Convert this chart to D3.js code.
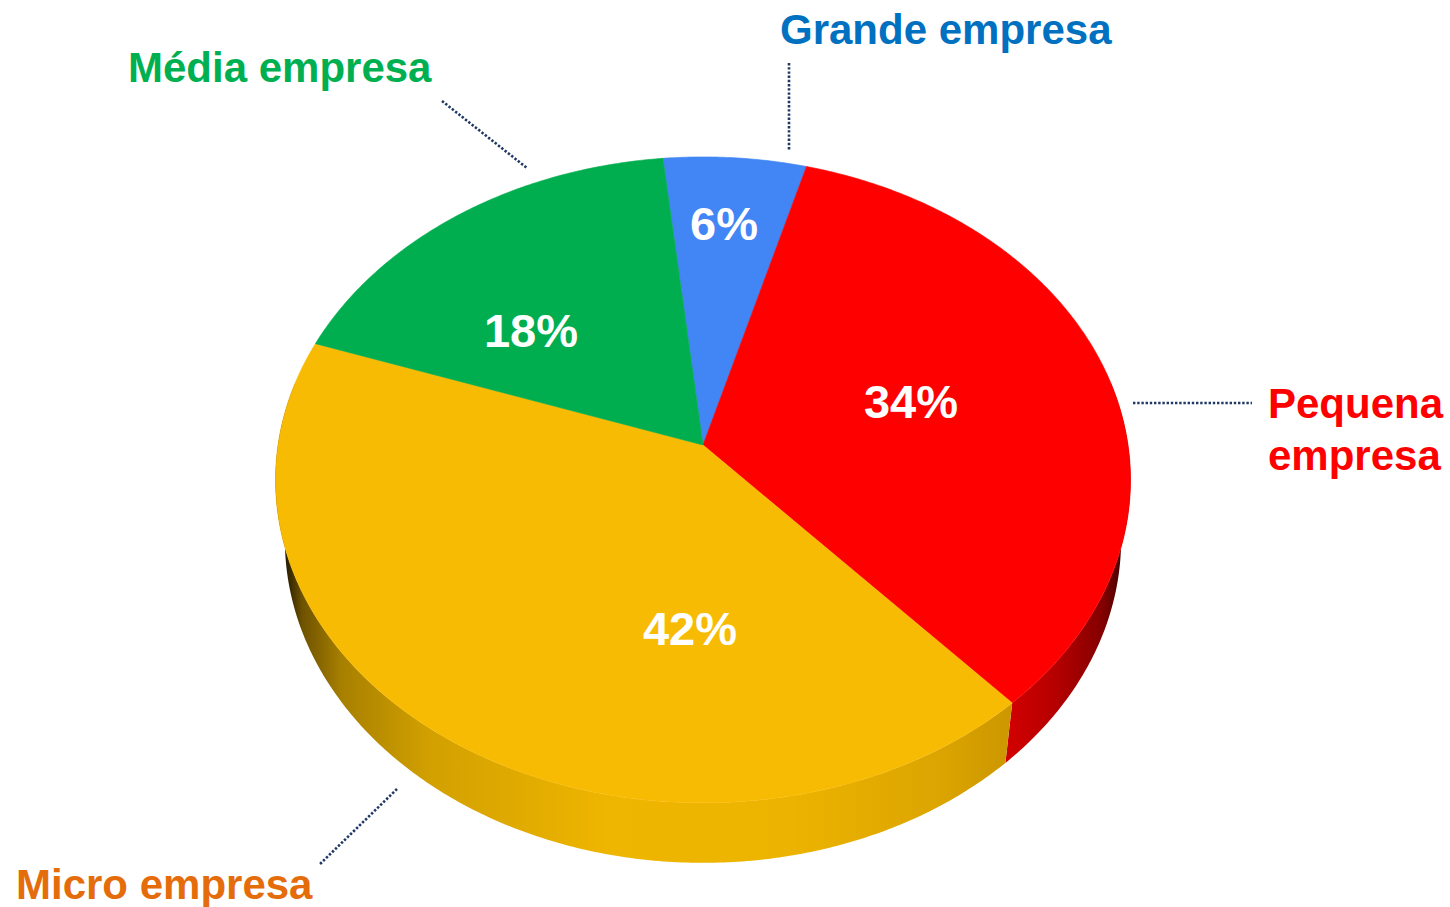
<!DOCTYPE html>
<html>
<head>
<meta charset="utf-8">
<script src="https://cdn.jsdelivr.net/npm/d3@7"></script>
<style>
  body { margin: 0; background: #fff; }
  text { font-family: "Liberation Sans", Arial, sans-serif; font-weight: bold; }
</style>
</head>
<body>
<script>
// data
var categories = ["Grande empresa", "Pequena empresa", "Micro empresa", "Média empresa"];
var values = [6, 34, 42, 18];
var pctLabels = ["6%", "34%", "42%", "18%"];

// styles
var topColors = ["#4285F4", "#FF0000", "#F8BB04", "#00AE4F"];
var labelColors = ["#0070C0", "#FF0000", "#E46C0A", "#00B050"];

var svgWidth = 1450;
var svgHeight = 907;

// perspective disc: center, radii, perspective factor, thickness, and
// horizontal shrink of the lower rim (vertical edges converge downward)
var cx = 703, cy = 445, A = 425, B = 319.2, k = 0.108, depth = 60, shrink = 0.978;

function proj(t, r) {
  if (r === undefined) r = 1;
  var u = r * Math.sin(t), v = r * Math.cos(t);
  var w = 1 + k * v;
  return [cx + A * u / w, cy - B * v / w];
}

function sample(a0, a1) {
  var n = Math.max(2, Math.ceil(Math.abs(a1 - a0) / 0.01));
  var pts = [];
  for (var i = 0; i <= n; i++) pts.push(proj(a0 + (a1 - a0) * i / n));
  return pts;
}

var svg = d3.select("body")
  .append("svg")
  .attr("width", svgWidth)
  .attr("height", svgHeight);

var defs = svg.append("defs");

// wall gradients (only the red and yellow slices show a side)
var wallGrads = {
  1: { x1: 998, x2: 1130, stops: [[0, "#d80000"], [0.45, "#b40000"], [0.8, "#820000"], [1, "#2a0000"]] },
  2: { x1: 284, x2: 1010, stops: [[0, "#1e1600"], [0.025, "#6e5200"], [0.08, "#a88000"], [0.2, "#d2a000"],
                                   [0.45, "#efb600"], [0.7, "#ecb300"], [0.9, "#dca500"], [1, "#cc9700"]] }
};
Object.keys(wallGrads).forEach(function(key) {
  var g = wallGrads[key];
  var lg = defs.append("linearGradient")
    .attr("id", "wall" + key)
    .attr("gradientUnits", "userSpaceOnUse")
    .attr("x1", g.x1).attr("x2", g.x2).attr("y1", 0).attr("y2", 0);
  g.stops.forEach(function(s) {
    lg.append("stop").attr("offset", s[0]).attr("stop-color", s[1]);
  });
});

var pie = d3.pie()
  .sort(null)
  .startAngle(-6 * Math.PI / 180)
  .endAngle(-6 * Math.PI / 180 + 2 * Math.PI);

var arcs = pie(values);
var line = d3.line();

// side walls (front half only)
var frontStart = Math.PI / 2 - 0.2, frontEnd = 3 * Math.PI / 2 + 0.2;
var wallGroup = svg.append("g");
arcs.forEach(function(d, i) {
  var a0 = Math.max(d.startAngle, frontStart);
  var a1 = Math.min(d.endAngle, frontEnd);
  if (a1 <= a0) return;
  var topPts = sample(a0, a1);
  var botPts = topPts.map(function(p) {
    return [cx + (p[0] - cx) * shrink, p[1] + depth];
  }).reverse();
  wallGroup.append("path")
    .attr("d", line(topPts.concat(botPts)) + "Z")
    .attr("fill", wallGrads[i] ? "url(#wall" + i + ")" : d3.color(topColors[i]).darker(0.6));
});

// top faces
var topGroup = svg.append("g");
arcs.forEach(function(d, i) {
  var pts = [proj(0, 0)].concat(sample(d.startAngle, d.endAngle));
  topGroup.append("path")
    .attr("d", line(pts) + "Z")
    .attr("fill", topColors[i])
    .attr("stroke", topColors[i])
    .attr("stroke-width", 0.6);
});

// percent labels
var pctPos = [[724, 240], [911, 418], [690, 645], [531, 347]];
svg.append("g").selectAll("text")
  .data(pctLabels)
  .enter()
  .append("text")
  .attr("x", (d, i) => pctPos[i][0])
  .attr("y", (d, i) => pctPos[i][1])
  .attr("text-anchor", "middle")
  .attr("fill", "#fff")
  .style("font-size", "47px")
  .text(d => d);

// leader lines
var leaders = [[[789, 63], [789, 150]], [[1133, 403], [1252, 403]], [[397, 789], [319, 865]], [[442, 101], [527, 168]]];
svg.append("g").selectAll("path")
  .data(leaders)
  .enter()
  .append("path")
  .attr("d", d => line(d))
  .attr("stroke", "#1F3864")
  .attr("stroke-width", 2.6)
  .attr("stroke-dasharray", "2.4 1.8")
  .attr("fill", "none");

// category labels
var labelPos = [[780, 44], [1268, 418], [16, 899], [128, 82]];
var labelGroup = svg.append("g");
categories.forEach(function(name, i) {
  var t = labelGroup.append("text")
    .attr("x", labelPos[i][0])
    .attr("y", labelPos[i][1])
    .attr("fill", labelColors[i])
    .style("font-size", "42px");
  if (name === "Pequena empresa") {
    t.append("tspan").attr("x", labelPos[i][0]).text("Pequena");
    t.append("tspan").attr("x", labelPos[i][0]).attr("dy", 52).text("empresa");
  } else {
    t.text(name);
  }
});
</script>
</body>
</html>
